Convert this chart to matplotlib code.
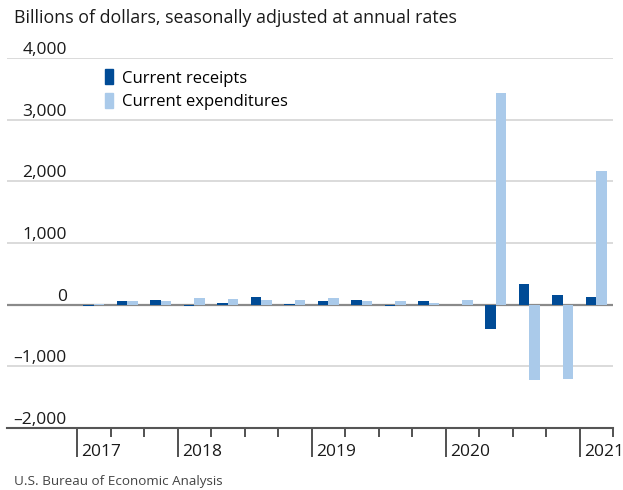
import matplotlib
matplotlib.use("Agg")
import matplotlib.pyplot as plt
import matplotlib.transforms as mtransforms
from matplotlib.patches import Patch

plt.rcParams["font.family"] = ["Open Sans", "DejaVu Sans"]

# ── Data (billions of dollars, SAAR; change from preceding quarter) ──────────
quarters = ["2017Q2", "2017Q3", "2017Q4",
            "2018Q1", "2018Q2", "2018Q3", "2018Q4",
            "2019Q1", "2019Q2", "2019Q3", "2019Q4",
            "2020Q1", "2020Q2", "2020Q3", "2020Q4",
            "2021Q1"]
receipts     = [-25, 65, 80, -20, 20, 118, 12, 62, 80, -25, 60, -5, -389, 329, 162, 130]
expenditures = [12, 62, 60, 103, 86, 80, 75, 105, 58, 65, 32, 81, 3436, -1227, -1200, 2160]
year_labels  = ["2017", "2018", "2019", "2020", "2021"]
year_starts  = [0, 3, 7, 11, 15]          # index of first quarter shown for each year
y_ticks      = [-2000, -1000, 0, 1000, 2000, 3000, 4000]

DARK = "#004B96"
LIGHT = "#AACAEA"
TEXT = "#1a1a1a"

fig = plt.figure(figsize=(6.23, 4.9), dpi=100)
ax = fig.add_axes([7 / 623, 62 / 490, 606 / 623, 370 / 490])

n = len(quarters)
w = 0.32
xs = [i + 0.5 for i in range(n)]
ax.bar([x - w / 2 for x in xs], receipts, width=w, color=DARK, zorder=3)
ax.bar([x + w / 2 for x in xs], expenditures, width=w, color=LIGHT, zorder=3)

ax.set_xlim(-2.09, n)
ax.set_ylim(y_ticks[0], y_ticks[-1])

# horizontal grid
for v in y_ticks[1:]:
    ax.axhline(v, color="#d4d4d4", lw=1.2, zorder=1)
ax.axhline(0, color="#8a8a8a", lw=1.6, zorder=2)

for s in ["top", "right", "left"]:
    ax.spines[s].set_visible(False)
ax.spines["bottom"].set_color("#555555")
ax.spines["bottom"].set_linewidth(1.5)
ax.set_yticks([])

# y labels sit just above their gridlines
ytrans = mtransforms.blended_transform_factory(ax.transAxes, ax.transData)
for v in y_ticks:
    ax.text(60 / 606, v, f"{v:,}".replace("-", "\u2013"), transform=ytrans,
            ha="right", va="bottom", fontsize=12.5, color=TEXT)

# quarter ticks: long at year starts, short otherwise
edges = list(range(n + 1))
major = year_starts
minor = [e for e in edges if e not in major]
ax.set_xticks(major)
ax.set_xticks(minor, minor=True)
ax.set_xticklabels([])
ax.tick_params(axis="x", which="major", direction="out", length=21, width=1.2, color="#333333")
ax.tick_params(axis="x", which="minor", direction="out", length=6.5, width=1.2, color="#333333")

xtrans = mtransforms.blended_transform_factory(ax.transData, ax.transAxes)
for lab, s in zip(year_labels, year_starts):
    ax.text(s + 0.13, -0.065, lab, transform=xtrans, ha="left", va="center",
            fontsize=12.5, color=TEXT)

handles = [Patch(color=DARK, label="Current receipts"),
           Patch(color=LIGHT, label="Current expenditures")]
fig.legend(handles=handles, loc="upper left", bbox_to_anchor=(102 / 623, 1 - 66 / 490),
           frameon=False, fontsize=12, handlelength=0.45, handleheight=1.0,
           handletextpad=0.55, labelspacing=0.4, borderaxespad=0, borderpad=0.2)

fig.text(14 / 623, 1 - 18 / 490, "Billions of dollars, seasonally adjusted at annual rates",
         ha="left", va="center", fontsize=12.8, color=TEXT)
fig.text(14 / 623, 1 - 481 / 490, "U.S. Bureau of Economic Analysis",
         ha="left", va="center", fontsize=9.7, color="#444444")

fig.savefig("out.png", dpi=100)
